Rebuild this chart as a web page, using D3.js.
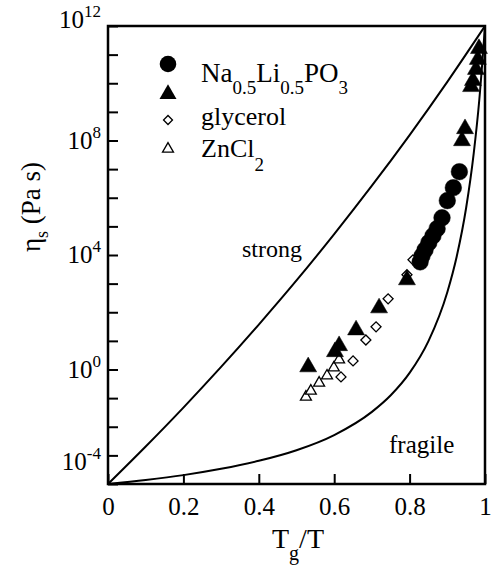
<!DOCTYPE html>
<html>
<head>
<meta charset="utf-8">
<script src="https://cdn.jsdelivr.net/npm/d3@7"></script>
<style>
body { margin: 0; background: #fff; }
text { font-family: "Liberation Serif", "Times New Roman", serif; fill: #000; }
</style>
</head>
<body>
<script>
// values: Tg/T and log10 of eta (Pa s)
let naliCircX   = [0.932, 0.916, 0.900, 0.886, 0.873, 0.862, 0.851, 0.841, 0.833, 0.828];
let naliCircLog = [6.91, 6.35, 5.90, 5.30, 4.92, 4.67, 4.43, 4.18, 3.97, 3.76];

let naliTriX   = [0.531, 0.602, 0.613, 0.658, 0.719, 0.793, 0.939, 0.947, 0.963, 0.968, 0.976, 0.981, 0.984];
let naliTriLog = [0.09, 0.62, 0.83, 1.38, 2.15, 3.13, 7.99, 8.41, 9.88, 10.09, 10.48, 10.83, 11.21];

let glycX   = [0.618, 0.650, 0.684, 0.711, 0.743, 0.793, 0.809];
let glycLog = [-0.26, 0.30, 1.03, 1.49, 2.47, 3.31, 3.83];

let zncl2X   = [0.525, 0.538, 0.560, 0.581, 0.599, 0.613];
let zncl2Log = [-0.96, -0.75, -0.47, -0.22, 0.06, 0.34];

let strongX   = [0, 0.1, 0.2, 0.3, 0.4, 0.5, 0.6, 0.7, 0.8, 0.9, 1];
let strongLog = [-4, -2.69, -1.33, 0.09, 1.57, 3.11, 4.73, 6.42, 8.19, 10.05, 12];

let fragileX   = [0, 0.1, 0.2, 0.3, 0.4, 0.5, 0.6, 0.7, 0.75, 0.8, 0.85, 0.9, 0.925, 0.95, 0.97, 0.985, 1];
let fragileLog = [-4, -3.86, -3.69, -3.47, -3.19, -2.82, -2.29, -1.48, -0.9, -0.12, 0.99, 2.7, 3.95, 5.65, 7.54, 9.44, 12];

let xTicks = [0, 0.2, 0.4, 0.6, 0.8, 1];
let xTickLabels = ["0", "0.2", "0.4", "0.6", "0.8", "1"];
let yTickExp = d3.range(-4, 13);
let yLabelExp = [12, 8, 4, 0, -4];

let width = 491,
	height = 572;
let pLeft = 108, pRight = 485, pTop = 26, pBottom = 484;

let svg = d3.select("body").append("svg").attr("width", width).attr("height", height);

let x = d3.scaleLinear().domain([0, 1]).range([pLeft, pRight]);
let y = d3.scaleLog().domain([1e-4, 1e12]).range([pBottom, pTop]);

function pts(xs, logs) {
	return xs.map((d, i) => [d, Math.pow(10, logs[i])]);
}

// axes (ticks point inward)
let xAxis = svg.append("g")
	.attr("transform", "translate(0," + pBottom + ")")
	.call(d3.axisBottom(x).tickValues(xTicks).tickSizeInner(-10).tickSizeOuter(0).tickPadding(13)
		.tickFormat((d, i) => xTickLabels[i]));
xAxis.select(".domain").remove();
xAxis.selectAll("line").attr("stroke", "#000").attr("stroke-width", 2);
xAxis.selectAll("text").attr("font-size", 25).attr("font-family", "Liberation Serif");

let yAxis = svg.append("g")
	.attr("transform", "translate(" + pLeft + ",0)")
	.call(d3.axisLeft(y).tickValues(yTickExp.map(e => Math.pow(10, e))).tickSizeInner(-10).tickSizeOuter(0).tickFormat(""));
yAxis.select(".domain").remove();
yAxis.selectAll("line").attr("stroke", "#000").attr("stroke-width", 2);

// y labels 10^n (the two end labels sit a little higher in the original)
let yLab = svg.append("g").selectAll("text").data(yLabelExp).enter().append("text")
	.attr("x", 101)
	.attr("y", d => y(Math.pow(10, d)) + 8 + (d == 12 ? -6 : d == -4 ? -22 : 0))
	.attr("text-anchor", "end")
	.attr("font-size", 25);
yLab.append("tspan").text("10");
yLab.append("tspan").attr("dy", -11).attr("font-size", 17).text(d => d < 0 ? "-" + (-d) : String(d));

// curves
let line = d3.line().x(d => x(d[0])).y(d => y(d[1])).curve(d3.curveMonotoneX);

svg.append("path")
	.datum(pts(strongX, strongLog))
	.attr("d", line)
	.attr("fill", "none").attr("stroke", "#000").attr("stroke-width", 2);

svg.append("path")
	.datum(pts(fragileX, fragileLog))
	.attr("d", line)
	.attr("fill", "none").attr("stroke", "#000").attr("stroke-width", 2);

// frame
svg.append("rect")
	.attr("x", pLeft).attr("y", pTop)
	.attr("width", pRight - pLeft).attr("height", pBottom - pTop)
	.attr("fill", "none").attr("stroke", "#000").attr("stroke-width", 2.5);

// markers
let circleSym = d3.symbol(d3.symbolCircle, 216);
let bigTri = d3.symbol(d3.symbolTriangle, 125);
let smallTri = d3.symbol(d3.symbolTriangle, 52);
let diamond = d3.symbol(d3.symbolSquare, 50);

function drawSeries(data, sym, fill, rot) {
	svg.append("g").selectAll("path").data(data).enter().append("path")
		.attr("d", sym)
		.attr("transform", d => "translate(" + x(d[0]) + "," + y(d[1]) + ")" + (rot ? " rotate(45)" : ""))
		.attr("fill", fill)
		.attr("stroke", "#000")
		.attr("stroke-width", fill == "#000" ? 0.5 : 1.3);
}

drawSeries(pts(zncl2X, zncl2Log), smallTri, "#fff", false);
drawSeries(pts(glycX, glycLog), diamond, "#fff", true);
drawSeries(pts(naliTriX, naliTriLog), bigTri, "#000", false);
drawSeries(pts(naliCircX, naliCircLog), circleSym, "#000", false);

// legend
let leg = svg.append("g");
leg.append("path").attr("d", circleSym).attr("transform", "translate(168,64)").attr("fill", "#000");
leg.append("path").attr("d", bigTri).attr("transform", "translate(168,94)").attr("fill", "#000");
leg.append("path").attr("d", d3.symbol(d3.symbolSquare, 40)).attr("transform", "translate(168,120) rotate(45)")
	.attr("fill", "#fff").attr("stroke", "#000").attr("stroke-width", 1.3);
leg.append("path").attr("d", smallTri).attr("transform", "translate(168,149)")
	.attr("fill", "#fff").attr("stroke", "#000").attr("stroke-width", 1.3);

let t1 = leg.append("text").attr("x", 201).attr("y", 82).attr("font-size", 27);
t1.append("tspan").text("Na");
t1.append("tspan").attr("dy", 12).attr("font-size", 19).text("0.5");
t1.append("tspan").attr("dy", -12).text("Li");
t1.append("tspan").attr("dy", 12).attr("font-size", 19).text("0.5");
t1.append("tspan").attr("dy", -12).text("PO");
t1.append("tspan").attr("dy", 12).attr("font-size", 19).text("3");

leg.append("text").attr("x", 201).attr("y", 125).attr("font-size", 26).text("glycerol");

let t3 = leg.append("text").attr("x", 201).attr("y", 157).attr("font-size", 26);
t3.append("tspan").text("ZnCl");
t3.append("tspan").attr("dy", 14).attr("font-size", 19).text("2");

// annotations
svg.append("text").attr("x", 242).attr("y", 257).attr("font-size", 24).text("strong");
svg.append("text").attr("x", 389).attr("y", 453).attr("font-size", 25).text("fragile");

// axis titles
let xt = svg.append("text").attr("x", 272).attr("y", 548).attr("font-size", 28);
xt.append("tspan").text("T");
xt.append("tspan").attr("dy", 12).attr("font-size", 20).text("g");
xt.append("tspan").attr("dy", -12).text("/T");

let yt = svg.append("text").attr("transform", "translate(40,207) rotate(-90)")
	.attr("text-anchor", "middle").attr("font-size", 27);
yt.append("tspan").text("η");
yt.append("tspan").attr("dy", 8).attr("font-size", 18).text("s");
yt.append("tspan").attr("dy", -8).text(" (Pa s)");
</script>
</body>
</html>
